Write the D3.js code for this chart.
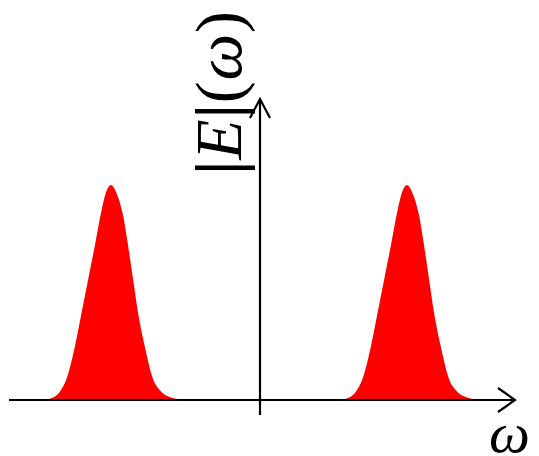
<!DOCTYPE html>
<html>
<head>
<meta charset="utf-8">
<script src="https://cdn.jsdelivr.net/npm/d3@7"></script>
<style>
  html, body { margin: 0; padding: 0; background: #fff; }
  svg { display: block; }
  .lbl { font-family: "Liberation Serif", "DejaVu Serif", serif; fill: #000; }
</style>
</head>
<body>
<svg id="chart" width="539" height="456"></svg>
<script>
// Spectrum |E|(ω): two identical pulses placed symmetrically about ω = 0
const peakCenters = [-1.49, 1.47];
// sampled pulse shape: offset from pulse centre (ω units) and normalised amplitude
const profileOffsets = [-0.68, -0.61, -0.51, -0.443, -0.36, -0.293, -0.227, -0.16, -0.093, -0.045, 0, 0.05, 0.12, 0.17, 0.22, 0.27, 0.337, 0.42, 0.50, 0.60, 0.67, 0.71];
const profileAmps    = [0, 0.006, 0.04, 0.1, 0.251, 0.408, 0.564, 0.721, 0.885, 0.972, 1.0, 0.968, 0.86, 0.721, 0.564, 0.408, 0.251, 0.098, 0.04, 0.012, 0.004, 0];
// axis extents in data units
const xAxisRange = [-2.51, 2.55];
const yAxisRange = [-0.07, 1.4];

const svg = d3.select("#chart");

const x = d3.scaleLinear().domain([-2.5, 2.5]).range([10, 510]);
const y = d3.scaleLinear().domain([0, 1]).range([400, 185]);

const series = peakCenters.map(c =>
  profileOffsets.map((d, i) => ({ w: c + d, a: profileAmps[i] }))
);

const area = d3.area()
  .x(d => x(d.w))
  .y0(y(0))
  .y1(d => y(d.a))
  .curve(d3.curveMonotoneX);

svg.append("g").selectAll("path")
  .data(series)
  .join("path")
  .attr("d", area)
  .attr("fill", "#ff0000");

// axes with open arrowheads
const axes = svg.append("g").attr("stroke", "#000").attr("stroke-width", 2.2).attr("fill", "none");

const x0 = x(xAxisRange[0]), x1 = x(xAxisRange[1]), yb = y(0);
axes.append("line").attr("x1", x0).attr("y1", yb).attr("x2", x1).attr("y2", yb);
axes.append("path")
  .attr("d", `M${x1 - 17},${yb - 12}L${x1},${yb}L${x1 - 17},${yb + 12}`);

const xa = x(0), y0a = y(yAxisRange[0]), y1a = y(yAxisRange[1]);
axes.append("line").attr("x1", xa).attr("y1", y0a).attr("x2", xa).attr("y2", y1a);
axes.append("path")
  .attr("d", `M${xa - 10},${y1a + 19}L${xa},${y1a}L${xa + 10},${y1a + 19}`);

// y label |E|(ω), rotated
const yl = svg.append("text")
  .attr("class", "lbl")
  .attr("transform", `translate(${xa - 19},93) rotate(-90)`)
  .attr("text-anchor", "middle")
  .attr("font-size", 66)
  .attr("textLength", 164)
  .attr("lengthAdjust", "spacing");
yl.append("tspan").attr("font-weight", "bold").text("|");
yl.append("tspan").attr("font-style", "italic").text("E");
yl.append("tspan").attr("font-weight", "bold").text("|");
yl.append("tspan").text("(");
yl.append("tspan").attr("font-style", "italic").text("ω");
yl.append("tspan").text(")");

// x label ω
svg.append("text")
  .attr("class", "lbl")
  .attr("x", 489)
  .attr("y", 452)
  .attr("font-size", 58)
  .attr("font-style", "italic")
  .text("ω");
</script>
</body>
</html>
